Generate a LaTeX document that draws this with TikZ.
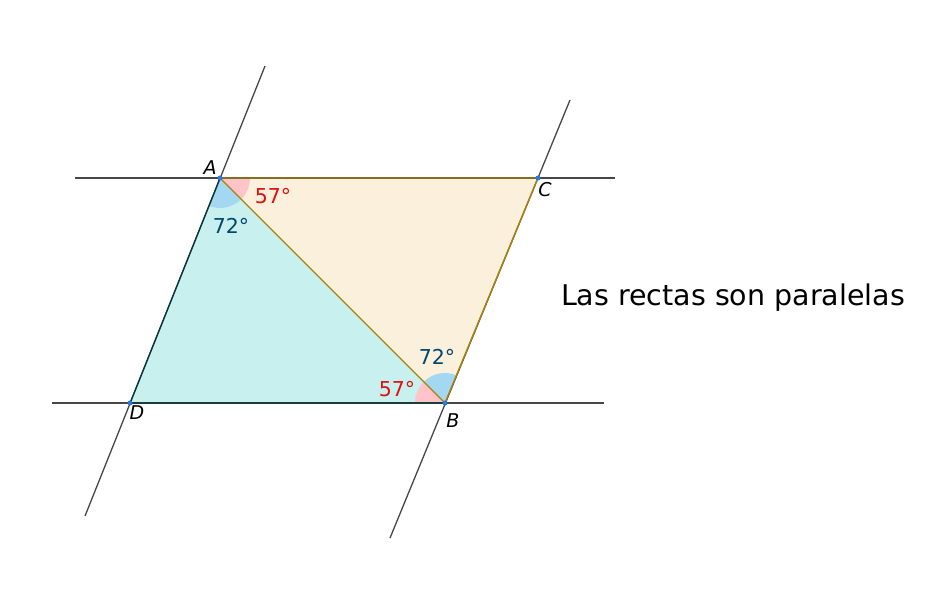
\documentclass[tikz,border=0pt]{standalone}
\usepackage{fontspec}
\setmainfont{DejaVu Sans}
\begin{document}
\begin{tikzpicture}[x=1pt,y=-1pt,
  gline/.style={draw=black!72,line width=1.3pt},
  tedge/.style={draw=black!55!teal,line width=1.2pt},
  oedge/.style={draw={rgb,255:red,170;green,130;blue,10},line width=1.4pt},
  dot/.style={circle,fill={rgb,255:red,40;green,120;blue,230},inner sep=0pt,minimum size=5pt},
  lbl/.style={font=\fontsize{19}{21}\selectfont\itshape},
  ang/.style={font=\fontsize{20.5}{23}\selectfont}]
\definecolor{tealfill}{HTML}{C8F0EE}
\definecolor{orfill}{HTML}{FAF0DC}
\definecolor{pinkarc}{HTML}{FFC4C8}
\definecolor{bluearc}{HTML}{A4D8F2}
\definecolor{redtxt}{HTML}{E01010}
\definecolor{bluetxt}{HTML}{00466E}
\useasboundingbox (0,0) rectangle (950,608);
\coordinate (A) at (220,178);
\coordinate (C) at (538,178);
\coordinate (D) at (130,403);
\coordinate (B) at (445,403);
% fills
\fill[tealfill] (A) -- (D) -- (B) -- cycle;
\fill[orfill] (A) -- (B) -- (C) -- cycle;
% angle arcs
\fill[bluearc] (A) -- ++(45:30) arc[start angle=45,end angle=111.8,radius=30] -- cycle;
\fill[pinkarc] (A) -- ++(0:30) arc[start angle=0,end angle=45,radius=30] -- cycle;
\fill[pinkarc] (B) -- ++(180:30) arc[start angle=180,end angle=225,radius=30] -- cycle;
\fill[bluearc] (B) -- ++(225:30) arc[start angle=225,end angle=292.5,radius=30] -- cycle;
% lines
\coordinate (l1a) at (75,178); \coordinate (l1b) at (615,178);
\coordinate (l2a) at (52,403); \coordinate (l2b) at (604,403);
\coordinate (l3a) at (265,66); \coordinate (l3b) at (85,516);
\coordinate (l4a) at (570,100); \coordinate (l4b) at (390,538);
\draw[gline] (l1a) -- (l1b);
\draw[gline] (l2a) -- (l2b);
\draw[gline] (l3a) -- (l3b);
\draw[gline] (l4a) -- (l4b);
% edges
\draw[tedge] (A) -- (D) -- (B);
\draw[oedge] (A) -- (C) -- (B) -- (A);
% points
\node[dot] (pA) at (A) {};
\node[dot] (pC) at (C) {};
\node[dot] (pD) at (D) {};
\node[dot] (pB) at (B) {};
% labels
\node[lbl] (tA) at (210,168) {A};
\node[lbl] (tC) at (545,190) {C};
\node[lbl] (tD) at (137,413) {D};
\node[lbl] (tB) at (453,421) {B};
\node[ang,text=redtxt] (a1) at (273,196) {57°};
\node[ang,text=bluetxt] (a2) at (231,226) {72°};
\node[ang,text=bluetxt] (a3) at (437,357) {72°};
\node[ang,text=redtxt] (a4) at (397,389) {57°};
\node[font=\fontsize{28.5}{32}\selectfont] (txt) at (733,298) {Las rectas son paralelas};
\end{tikzpicture}
\end{document}
